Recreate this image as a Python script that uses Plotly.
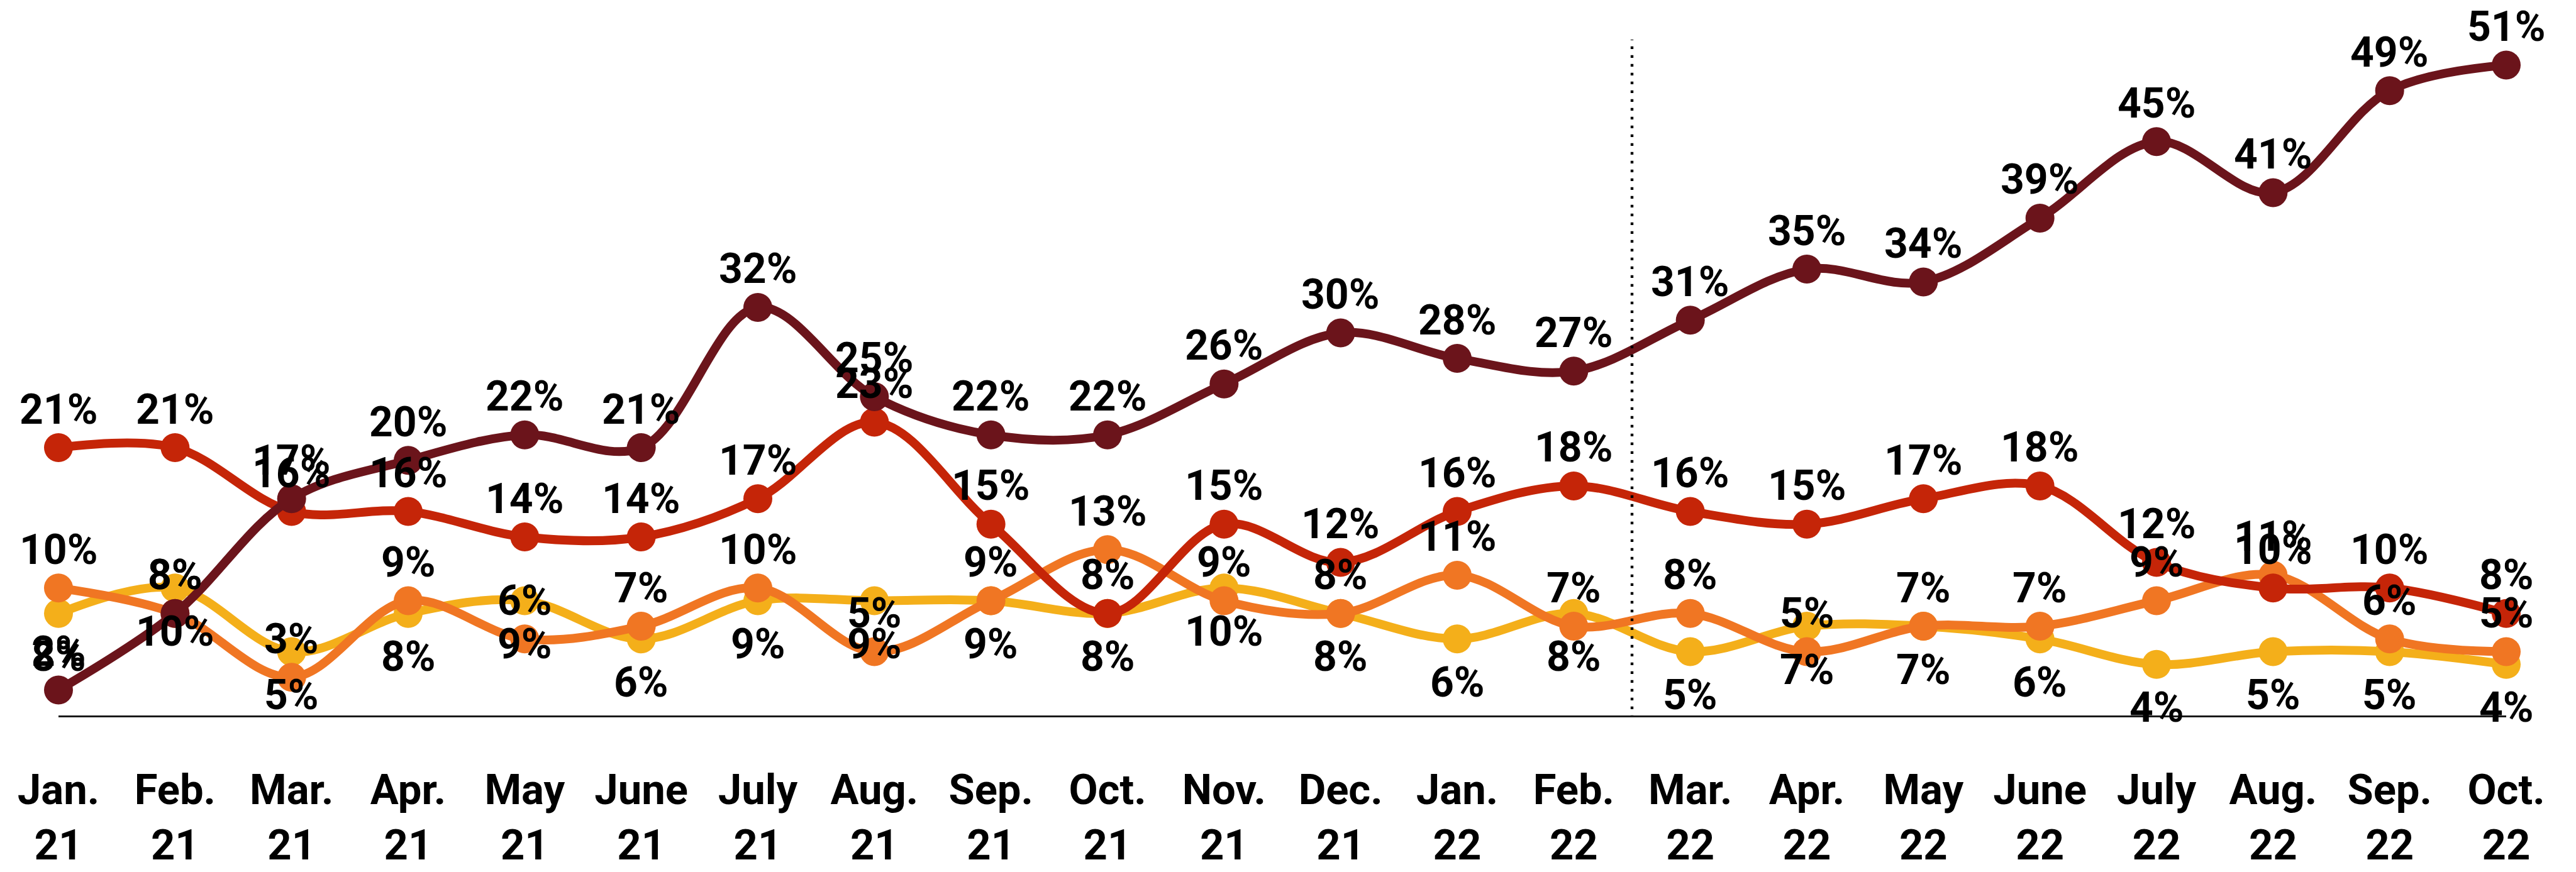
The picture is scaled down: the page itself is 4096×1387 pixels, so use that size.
import plotly.graph_objects as go

# ---- data ----
months = ["Jan.", "Feb.", "Mar.", "Apr.", "May", "June", "July", "Aug.", "Sep.", "Oct.", "Nov.",
          "Dec.", "Jan.", "Feb.", "Mar.", "Apr.", "May", "June", "July", "Aug.", "Sep.", "Oct."]
years = ["21"] * 12 + ["22"] * 10

s_maroon = [2, 8, 17, 20, 22, 21, 32, 25, 22, 22, 26, 30, 28, 27, 31, 35, 34, 39, 45, 41, 49, 51]
s_red = [21, 21, 16, 16, 14, 14, 17, 23, 15, 8, 15, 12, 16, 18, 16, 15, 17, 18, 12, 10, 10, 8]
s_orange = [10, 8, 3, 9, 6, 7, 10, 5, 9, 13, 9, 8, 11, 7, 8, 5, 7, 7, 9, 11, 6, 5]
s_yellow = [8, 10, 5, 8, 9, 6, 9, 9, 9, 8, 10, 8, 6, 8, 5, 7, 7, 6, 4, 5, 5, 4]

# ---- styles ----
FONT = "Roboto, 'Noto Sans', 'DejaVu Sans', sans-serif"
series = [
    # (values, color, label side)
    (s_yellow, "#F4AF1A", "below"),
    (s_orange, "#F07623", "above"),
    (s_red, "#C52508", "above"),
    (s_maroon, "#6B141B", "above"),
]

x_idx = list(range(len(months)))

fig = go.Figure()
for vals, col, side in series:
    fig.add_trace(go.Scatter(
        x=x_idx, y=vals, mode="lines+markers",
        line=dict(color=col, width=14, shape="spline", smoothing=1.0),
        marker=dict(color=col, size=46, line=dict(width=0)),
        cliponaxis=False, showlegend=False, hoverinfo="skip",
    ))

annotations = []
for vals, col, side in series:
    for i, v in enumerate(vals):
        annotations.append(dict(
            x=i, y=v, xref="x", yref="y", text=f"<b>{v}%</b>", showarrow=False,
            xanchor="center", yanchor="middle",
            yshift=(61 if side == "above" else -69),
            font=dict(family=FONT, size=66, color="#000000"),
        ))

fig.update_layout(
    width=4096, height=1387,
    margin=dict(l=85, r=119, t=55, b=203),
    paper_bgcolor="white", plot_bgcolor="white",
    annotations=annotations,
    shapes=[dict(type="line", xref="x", yref="y", x0=13.5, x1=13.5, y0=-0.2, y1=53,
                 line=dict(color="#000000", width=4.4, dash="4.4px,9.6px"), layer="above")],
)
fig.update_xaxes(
    range=[0, 21], tickmode="array", tickvals=x_idx,
    ticktext=[f"<b>{m}</b><br><b>{y}</b>" for m, y in zip(months, years)],
    showgrid=False, zeroline=False, showline=True, linecolor="#1a1a1a", linewidth=3,
    ticks="", ticklabelstandoff=58,
    tickfont=dict(family=FONT, size=67, color="#000000"),
)
fig.update_yaxes(range=[0, 53], showgrid=False, zeroline=False, showline=False,
                 showticklabels=False, ticks="")

fig.write_html("out.html")
